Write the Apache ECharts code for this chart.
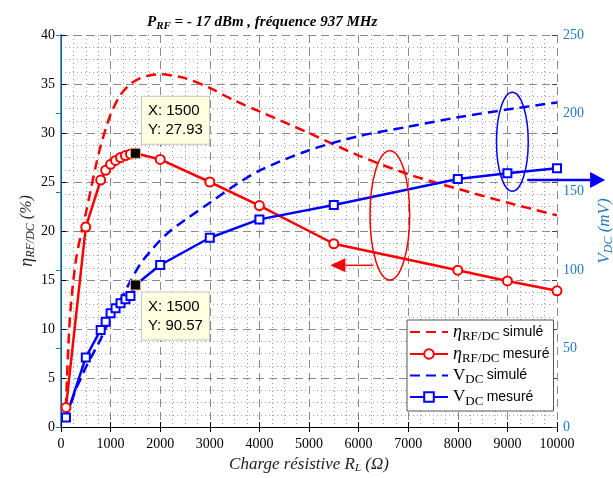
<!DOCTYPE html>
<html>
<head>
<meta charset="utf-8">
<script src="https://cdn.jsdelivr.net/npm/echarts@6/dist/echarts.min.js"></script>
<style>
  html, body { margin: 0; padding: 0; background: #fff; }
  #main { width: 613px; height: 478px; }
</style>
</head>
<body>
<div id="main"></div>
<script>
// load resistance (ohm), measured points
const rMes = [100, 500, 800, 900, 1000, 1100, 1200, 1300, 1400, 1500, 2000, 3000, 4000, 5500, 8000, 9000, 10000];
const etaMes = [2.0, 20.4, 25.2, 26.2, 26.8, 27.2, 27.5, 27.7, 27.85, 27.93, 27.3, 25.0, 22.6, 18.7, 16.0, 14.9, 13.9];
const vdcMes = [6, 44.4, 61.9, 67.2, 72.5, 75.7, 78.9, 81.4, 83.5, 90.57, 103.3, 120.7, 132.4, 141.6, 158.2, 161.8, 165.0];

// simulated curves
const rSim = [100, 150, 200, 300, 400, 500, 600, 700, 800, 900, 1000, 1200, 1400, 1600, 1800, 2000, 2200, 2500, 3000, 3500, 4000, 5000, 6000, 7000, 8000, 9000, 10000];
const etaSim = [2.0, 8.5, 12.5, 17.0, 19.6, 21.8, 24.2, 26.6, 28.7, 30.4, 31.9, 33.9, 35.0, 35.6, 35.9, 36.0, 35.9, 35.6, 34.6, 33.3, 32.2, 30.0, 27.7, 25.8, 24.3, 22.9, 21.6];
const vdcSim = [6, 11, 15, 24, 31, 38, 44, 50, 56, 63, 69, 81, 93, 104, 112, 119, 125, 132, 143, 154, 163.5, 176.5, 185.5, 191.5, 197.5, 202.5, 207];

const tipIndex = 9; // data tip at R = 1500

// annotations, in (R, eta) units
const redEllipse = { x: 6630, y: 21.6, rx: 400, ry: 6.6 };
const redArrow = { from: [6300, 16.5], to: [5430, 16.5] };
const blueEllipse = { x: 9100, y: 29.1, rx: 320, ry: 5.05 };
const blueArrow = { from: [9400, 25.2], to: [10970, 25.2] };

const RED = '#ff0000';
const BLUE = '#0000ff';
const AXBLUE = '#1f78c1';
const SERIF = 'Liberation Serif';
const SANS = 'Liberation Sans';

const zip = (xs, ys) => xs.map((x, i) => [x, ys[i]]);

const legendText = {
  etaSim: '{g|η}{sub|RF/DC} {t|simulé}',
  etaMes: '{g|η}{sub|RF/DC} {t|mesuré}',
  vSim: '{v|V}{sub|DC} {t|simulé}',
  vMes: '{v|V}{sub|DC} {t|mesuré}'
};

function tipLabel(pos) {
  return {
    show: true,
    position: pos,
    formatter: p => 'X: ' + p.data.coord[0] + '\nY: ' + p.data.coord[1].toFixed(2),
    fontFamily: SANS,
    fontSize: 15,
    lineHeight: 19,
    color: '#000',
    backgroundColor: '#ffffe1',
    borderColor: '#c4c4c4',
    borderWidth: 1,
    padding: [5, 6, 4, 6]
  };
}

const chart = echarts.init(document.getElementById('main'), null, { renderer: 'canvas' });

const option = {
  animation: false,
  backgroundColor: '#fff',
  title: {
    left: 142,
    top: 7,
    text: '{b|P}{bs|RF}{b| = - 17 dBm , fréquence 937 MHz}',
    textStyle: {
      rich: {
        b: { fontFamily: SERIF, fontStyle: 'italic', fontWeight: 'bold', fontSize: 15, lineHeight: 20, color: '#000' },
        bs: { fontFamily: SERIF, fontStyle: 'italic', fontWeight: 'bold', fontSize: 11, lineHeight: 11, verticalAlign: 'bottom', color: '#000' }
      }
    }
  },
  legend: {
    orient: 'vertical',
    left: 407,
    top: 320,
    itemWidth: 38,
    itemHeight: 12,
    itemGap: 2,
    padding: [3, 4, 3, 2],
    backgroundColor: '#fff',
    borderColor: '#555',
    borderWidth: 1,
    borderRadius: 0,
    data: [
      { name: 'etaSim', itemStyle: { opacity: 0 } },
      { name: 'etaMes' },
      { name: 'vSim', itemStyle: { opacity: 0 } },
      { name: 'vMes' }
    ],
    formatter: name => legendText[name],
    textStyle: {
      color: '#000',
      rich: {
        g: { fontFamily: SERIF, fontStyle: 'italic', fontSize: 18, lineHeight: 22 },
        v: { fontFamily: SERIF, fontSize: 17, lineHeight: 22 },
        sub: { fontFamily: SERIF, fontSize: 13, lineHeight: 13, verticalAlign: 'bottom' },
        t: { fontFamily: SANS, fontSize: 14, lineHeight: 22 }
      }
    }
  },
  grid: { left: 61, right: 56, top: 35, bottom: 51, outerBoundsMode: 'none', containLabel: false },
  xAxis: [
    {
      type: 'value',
      min: 0,
      max: 10000,
      interval: 1000,
      name: '{i|Charge résistive R}{s|L}{i| (Ω)}',
      nameLocation: 'middle',
      nameGap: 27,
      nameTextStyle: {
        rich: {
          i: { fontFamily: SERIF, fontStyle: 'italic', fontSize: 17, lineHeight: 18, color: '#222' },
          s: { fontFamily: SERIF, fontStyle: 'italic', fontSize: 11, lineHeight: 11, verticalAlign: 'bottom', color: '#222' }
        }
      },
      axisLine: { show: true, onZero: false, lineStyle: { color: '#000', width: 1 } },
      axisTick: { inside: true, length: 5, lineStyle: { color: '#000' } },
      axisLabel: { fontFamily: SERIF, fontSize: 14, color: '#000', margin: 10, formatter: v => String(v) },
      splitLine: { show: true, lineStyle: { color: '#8a8a8a', type: [8, 5], width: 1 } },
      minorTick: { show: false, splitNumber: 4 },
      minorSplitLine: { show: true, lineStyle: { color: '#a0a0a0', type: [1, 3], width: 1 } }
    },
    {
      type: 'value',
      position: 'top',
      min: 0,
      max: 10000,
      interval: 1000,
      axisLine: { show: false },
      axisTick: { inside: true, length: 5, lineStyle: { color: '#000' } },
      axisLabel: { show: false },
      splitLine: { show: false }
    }
  ],
  yAxis: [
    {
      type: 'value',
      position: 'left',
      min: 0,
      max: 40,
      interval: 5,
      name: '{g|η}{s|RF/DC}{i| (%)}',
      nameLocation: 'middle',
      nameRotate: 90,
      nameGap: 24,
      nameMoveOverlap: false,
      nameTextStyle: {
        rich: {
          g: { fontFamily: SERIF, fontStyle: 'italic', fontSize: 18, lineHeight: 20, color: '#222' },
          i: { fontFamily: SERIF, fontStyle: 'italic', fontSize: 16, lineHeight: 20, color: '#222' },
          s: { fontFamily: SERIF, fontStyle: 'italic', fontSize: 12, lineHeight: 12, verticalAlign: 'bottom', color: '#222' }
        }
      },
      axisLine: { show: true, lineStyle: { color: '#000', width: 1 } },
      axisTick: { show: true, inside: true, length: 5, lineStyle: { color: '#000' } },
      axisLabel: { fontFamily: SERIF, fontSize: 14, color: '#000', margin: 6 },
      splitLine: { show: true, lineStyle: { color: '#8a8a8a', type: [8, 5], width: 1 } },
      minorTick: { show: false, splitNumber: 4 },
      minorSplitLine: { show: true, lineStyle: { color: '#a0a0a0', type: [1, 3], width: 1 } }
    },
    {
      type: 'value',
      position: 'right',
      min: 0,
      max: 250,
      interval: 50,
      name: '{i|V}{s|DC}{i| (mV)}',
      nameLocation: 'middle',
      nameRotate: 90,
      nameGap: 38,
      nameMoveOverlap: false,
      nameTextStyle: {
        rich: {
          i: { fontFamily: SERIF, fontStyle: 'italic', fontSize: 17, lineHeight: 20, color: AXBLUE },
          s: { fontFamily: SERIF, fontStyle: 'italic', fontSize: 12, lineHeight: 12, verticalAlign: 'bottom', color: AXBLUE }
        }
      },
      axisLine: { show: true, lineStyle: { color: AXBLUE, width: 1.5 } },
      axisTick: { show: true, inside: true, length: 5, lineStyle: { color: AXBLUE } },
      axisLabel: { fontFamily: SERIF, fontSize: 14, color: AXBLUE, margin: 6 },
      splitLine: { show: false }
    },
    {
      type: 'value',
      position: 'right',
      min: 0,
      max: 40,
      interval: 5,
      axisLine: { show: false },
      axisTick: { show: true, inside: true, length: 5, lineStyle: { color: '#444' } },
      axisLabel: { show: false },
      splitLine: { show: false }
    }
  ],
  series: [
    {
      name: 'etaSim',
      type: 'line',
      yAxisIndex: 0,
      data: zip(rSim, etaSim),
      smooth: 0.3,
      symbol: 'none',
      lineStyle: { color: RED, width: 2.5, type: [10, 6] },
      itemStyle: { color: RED }
    },
    {
      name: 'etaMes',
      type: 'line',
      yAxisIndex: 0,
      data: zip(rMes, etaMes),
      symbol: 'emptyCircle',
      symbolSize: 9,
      lineStyle: { color: RED, width: 2.5 },
      itemStyle: { color: RED, borderColor: RED, borderWidth: 2 },
      markPoint: {
        symbol: 'rect',
        symbolSize: 10,
        itemStyle: { color: '#000', borderColor: '#e8b878', borderWidth: 1 },
        label: tipLabel([12, -51]),
        data: [{ coord: [rMes[tipIndex], etaMes[tipIndex]] }]
      }
    },
    {
      name: 'vSim',
      type: 'line',
      yAxisIndex: 1,
      data: zip(rSim, vdcSim),
      smooth: 0.3,
      symbol: 'none',
      lineStyle: { color: BLUE, width: 2.5, type: [10, 6] },
      itemStyle: { color: BLUE }
    },
    {
      name: 'vMes',
      type: 'line',
      yAxisIndex: 1,
      data: zip(rMes, vdcMes),
      symbol: 'emptyRect',
      symbolSize: 8,
      lineStyle: { color: BLUE, width: 2.5 },
      itemStyle: { color: BLUE, borderColor: BLUE, borderWidth: 2 },
      markPoint: {
        symbol: 'rect',
        symbolSize: 10,
        itemStyle: { color: '#000', borderColor: '#e8b878', borderWidth: 1 },
        label: tipLabel([12, 13]),
        data: [{ coord: [rMes[tipIndex], vdcMes[tipIndex]] }]
      }
    }
  ]
};

chart.setOption(option);

// ellipses and arrows, placed through the axes
const finder = { xAxisIndex: 0, yAxisIndex: 0 };
const px = pt => chart.convertToPixel(finder, pt);

function ellipseShape(e, color, width) {
  const c = px([e.x, e.y]);
  const rx = px([e.x + e.rx, e.y])[0] - c[0];
  const ry = c[1] - px([e.x, e.y + e.ry])[1];
  return {
    type: 'ellipse',
    shape: { cx: c[0], cy: c[1], rx: rx, ry: ry },
    style: { fill: null, stroke: color, lineWidth: width },
    z: 100
  };
}

function arrowShapes(a, color, width, head) {
  const p0 = px(a.from);
  const p1 = px(a.to);
  const dir = p1[0] > p0[0] ? 1 : -1;
  const base = p1[0] - dir * head[0];
  return [
    {
      type: 'line',
      shape: { x1: p0[0], y1: p0[1], x2: base, y2: p1[1] },
      style: { stroke: color, lineWidth: width },
      z: 100
    },
    {
      type: 'polygon',
      shape: { points: [[p1[0], p1[1]], [base, p1[1] - head[1]], [base, p1[1] + head[1]]] },
      style: { fill: color },
      z: 100
    }
  ];
}

chart.setOption({
  graphic: [
    ellipseShape(redEllipse, RED, 1.5),
    ...arrowShapes(redArrow, RED, 1.5, [15, 7]),
    ellipseShape(blueEllipse, BLUE, 1.5),
    ...arrowShapes(blueArrow, BLUE, 2.5, [15, 8])
  ]
});
</script>
</body>
</html>
